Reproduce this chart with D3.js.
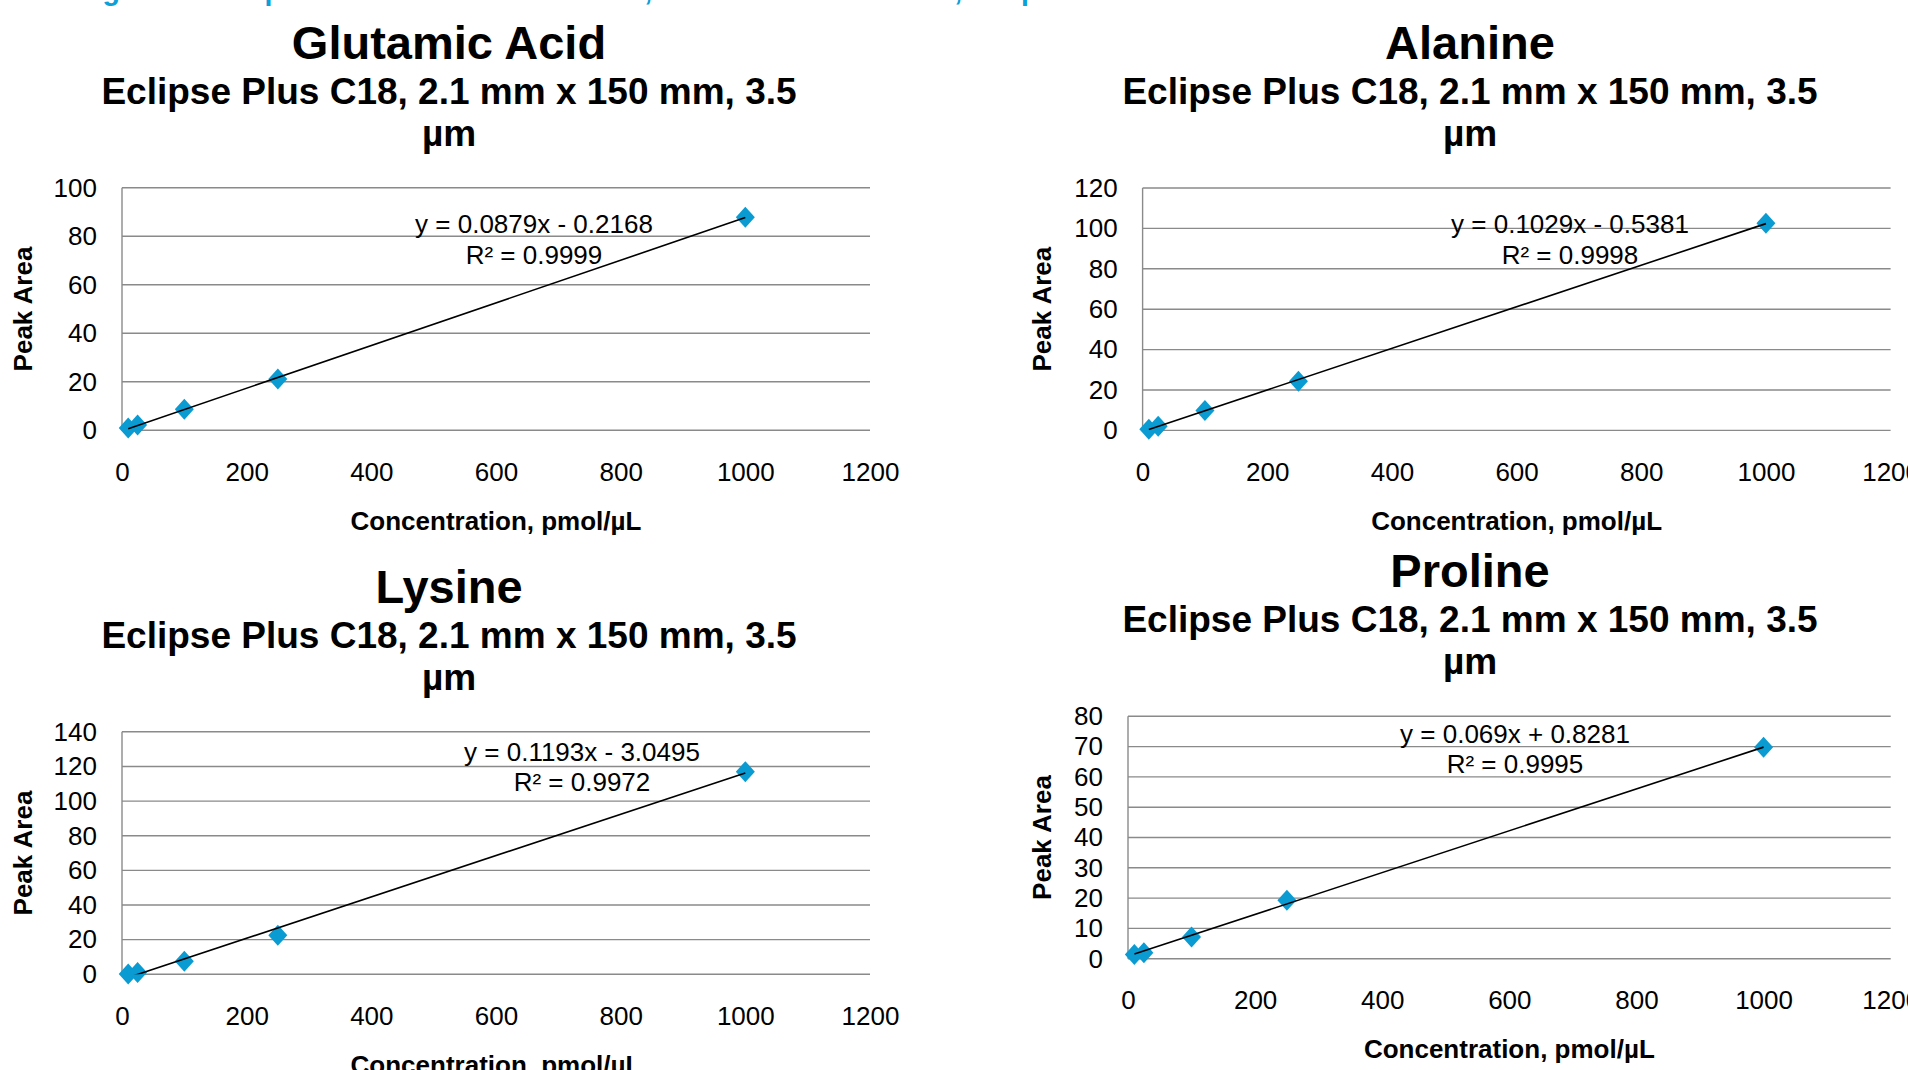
<!DOCTYPE html>
<html lang="en">
<head>
<meta charset="utf-8">
<title>Amino acid calibration curves</title>
<script src="https://cdn.jsdelivr.net/npm/d3@7"></script>
<style>
  body { margin: 0; background: #fff; }
  svg { display: block; font-family: "Liberation Sans", Arial, sans-serif; }
</style>
</head>
<body>
<script>
// chart values
var concentration = [10, 25, 100, 250, 1000]; // pmol/uL
var glutamicArea = [0.9, 2.2, 8.7, 21.1, 87.8];
var alanineArea = [0.6, 2.1, 9.8, 24.3, 102.5];
var lysineArea = [0.2, 1.0, 7.5, 22.6, 117.0];
var prolineArea = [1.4, 2.0, 7.2, 19.3, 69.8];

var xTicks = [0, 200, 400, 600, 800, 1000, 1200];
var glutamicTicks = [0, 20, 40, 60, 80, 100];
var alanineTicks = [0, 20, 40, 60, 80, 100, 120];
var lysineTicks = [0, 20, 40, 60, 80, 100, 120, 140];
var prolineTicks = [0, 10, 20, 30, 40, 50, 60, 70, 80];

// trendline slope / intercept and labels
var slopes = [0.0879, 0.1029, 0.1193, 0.069];
var intercepts = [-0.2168, -0.5381, -3.0495, 0.8281];
var eqLabels = ["y = 0.0879x - 0.2168", "y = 0.1029x - 0.5381", "y = 0.1193x - 3.0495", "y = 0.069x + 0.8281"];
var r2Labels = ["R² = 0.9999", "R² = 0.9998", "R² = 0.9972", "R² = 0.9995"];

var names = ["Glutamic Acid", "Alanine", "Lysine", "Proline"];
var subtitleLines = ["Eclipse Plus C18, 2.1 mm x 150 mm, 3.5", "µm"];
var xTitle = "Concentration, pmol/µL";
var yTitle = "Peak Area";
var caption = "Figure 3. Sample linear calibration results, amino acid standards, Eclipse Plus C18";

var w = 1908, h = 1070;
var blue = "#0a9bd2";
var grid = "#8a8a8a";

var svg = d3.select("body").append("svg")
    .attr("width", w)
    .attr("height", h);

svg.append("rect").attr("width", w).attr("height", h).attr("fill", "#fff");

// caption above, cut off by the page top
svg.append("text")
    .attr("x", 77)
    .attr("y", -0.5)
    .attr("font-size", 28.6)
    .attr("font-weight", "bold")
    .attr("fill", "#0aa0d8")
    .text(caption);

// panel layout
var panels = [
  { area: glutamicArea, ticks: glutamicTicks, left: 122, top: 187.7, width: 748, height: 242.6,
    titleX: 449, titleY: 59, eqX: 534, eqY: 233, yTitleX: 31.5 },
  { area: alanineArea, ticks: alanineTicks, left: 1142.6, top: 188, width: 748, height: 242.4,
    titleX: 1470, titleY: 59, eqX: 1570, eqY: 233, yTitleX: 1051 },
  { area: lysineArea, ticks: lysineTicks, left: 122, top: 731.8, width: 748, height: 242.5,
    titleX: 449, titleY: 603, eqX: 582, eqY: 760.5, yTitleX: 31.5 },
  { area: prolineArea, ticks: prolineTicks, left: 1128, top: 716.3, width: 762.7, height: 242.4,
    titleX: 1470, titleY: 587, eqX: 1515, eqY: 742.5, yTitleX: 1051 }
];

panels.forEach(function(p, i) {
  var g = svg.append("g");
  var x = d3.scaleLinear().domain([0, 1200]).range([p.left, p.left + p.width]);
  var y = d3.scaleLinear().domain([0, d3.max(p.ticks)]).range([p.top + p.height, p.top]);

  // titles
  g.append("text")
    .attr("x", p.titleX).attr("y", p.titleY)
    .attr("text-anchor", "middle")
    .attr("font-size", 47).attr("font-weight", "bold")
    .text(names[i]);
  subtitleLines.forEach(function(s, k) {
    g.append("text")
      .attr("x", p.titleX).attr("y", p.titleY + 45 + k * 42)
      .attr("text-anchor", "middle")
      .attr("font-size", 37).attr("font-weight", "bold")
      .text(s);
  });

  // gridlines
  g.selectAll("line.grid")
    .data(p.ticks)
    .enter().append("line")
    .attr("class", "grid")
    .attr("x1", x(0)).attr("x2", x(1200))
    .attr("y1", function(d) { return y(d); })
    .attr("y2", function(d) { return y(d); })
    .attr("stroke", grid).attr("stroke-width", 1.4);

  g.append("line")
    .attr("x1", x(0)).attr("x2", x(0))
    .attr("y1", y.range()[1]).attr("y2", y.range()[0])
    .attr("stroke", grid).attr("stroke-width", 1.4);

  // axes
  var ya = g.append("g")
    .attr("transform", "translate(" + x(0) + ",0)")
    .call(d3.axisLeft(y).tickValues(p.ticks).tickFormat(d3.format("d")).tickSize(0).tickPadding(25));
  var xa = g.append("g")
    .attr("transform", "translate(0," + y(0) + ")")
    .call(d3.axisBottom(x).tickValues(xTicks).tickFormat(d3.format("d")).tickSize(0).tickPadding(32));
  [ya, xa].forEach(function(a) {
    a.select(".domain").remove();
    a.selectAll("text")
      .attr("font-size", 26)
      .attr("font-family", "'Liberation Sans', Arial, sans-serif")
      .attr("fill", "#000");
  });

  // axis titles
  g.append("text")
    .attr("x", x(600)).attr("y", y(0) + 99.5)
    .attr("text-anchor", "middle")
    .attr("font-size", 26).attr("font-weight", "bold")
    .text(xTitle);
  g.append("text")
    .attr("transform", "translate(" + p.yTitleX + "," + (p.top + p.height / 2) + ") rotate(-90)")
    .attr("text-anchor", "middle")
    .attr("font-size", 26).attr("font-weight", "bold")
    .text(yTitle);

  // markers
  g.selectAll("path.pt")
    .data(concentration)
    .enter().append("path")
    .attr("class", "pt")
    .attr("d", "M0,-10.5L9.5,0L0,10.5L-9.5,0Z")
    .attr("transform", function(d, k) { return "translate(" + x(d) + "," + y(p.area[k]) + ")"; })
    .attr("fill", blue);

  // linear trendline, clipped to the plot
  var clipId = "clip" + i;
  svg.append("clipPath").attr("id", clipId)
    .append("rect")
    .attr("x", p.left).attr("y", p.top)
    .attr("width", p.width).attr("height", p.height);
  var ends = [concentration[0], concentration[concentration.length - 1]];
  var line = d3.line()
    .x(function(d) { return x(d); })
    .y(function(d) { return y(slopes[i] * d + intercepts[i]); });
  g.append("path")
    .attr("d", line(ends))
    .attr("clip-path", "url(#" + clipId + ")")
    .attr("fill", "none")
    .attr("stroke", "#000")
    .attr("stroke-width", 1.6);

  // equation labels
  g.append("text")
    .attr("x", p.eqX).attr("y", p.eqY)
    .attr("text-anchor", "middle")
    .attr("font-size", 26)
    .text(eqLabels[i]);
  g.append("text")
    .attr("x", p.eqX).attr("y", p.eqY + 30.5)
    .attr("text-anchor", "middle")
    .attr("font-size", 26)
    .text(r2Labels[i]);
});
</script>
</body>
</html>
